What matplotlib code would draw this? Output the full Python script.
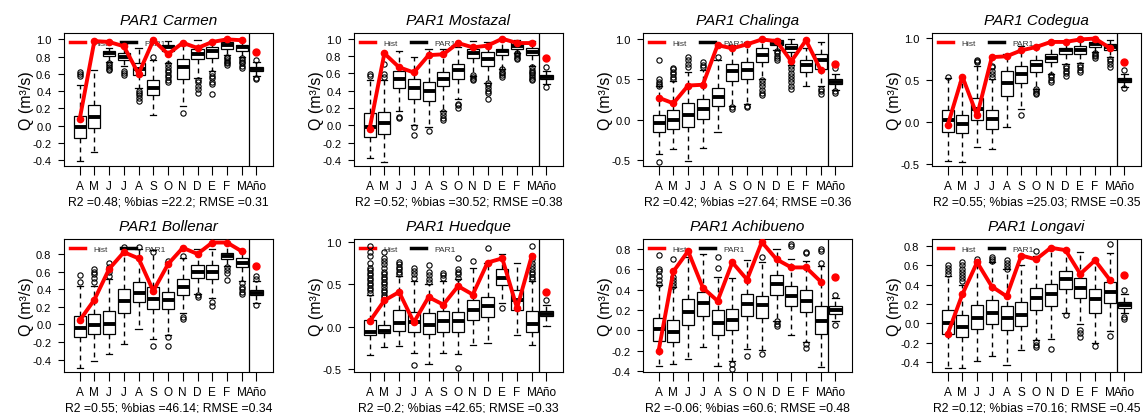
import matplotlib

matplotlib.use("Agg")
import matplotlib.pyplot as plt
from matplotlib.lines import Line2D
from matplotlib.ticker import FormatStrFormatter

plt.rcParams["font.family"] = ["Liberation Sans", "DejaVu Sans"]
plt.rcParams["axes.unicode_minus"] = False

STATIONS = ["Carmen", "Mostazal", "Chalinga", "Codegua",
            "Bollenar", "Huedque", "Achibueno", "Longavi"]
MONTHS = ["A", "M", "J", "J", "A", "S", "O", "N", "D", "E", "F", "M", "Año"]
SCORES = [
    "R2 =0.48; %bias =22.2; RMSE =0.31",
    "R2 =0.52; %bias =30.52; RMSE =0.38",
    "R2 =0.42; %bias =27.64; RMSE =0.36",
    "R2 =0.55; %bias =25.03; RMSE =0.35",
    "R2 =0.55; %bias =46.14; RMSE =0.34",
    "R2 =0.2; %bias =42.65; RMSE =0.33",
    "R2 =-0.06; %bias =60.6; RMSE =0.48",
    "R2 =0.12; %bias =70.16; RMSE =0.45",
]
TICKS_02 = [-0.4, -0.2, 0.0, 0.2, 0.4, 0.6, 0.8, 1.0]
TICKS_05 = [-0.5, 0.0, 0.5, 1.0]
TICKS_08 = [-0.4, -0.2, 0.0, 0.2, 0.4, 0.6, 0.8]
Y_TICKS = [TICKS_02, TICKS_02, TICKS_05, TICKS_05,
           TICKS_08, TICKS_05, TICKS_08, TICKS_08]
Y_LIMITS = [(-0.47, 1.074), (-0.47, 1.066), (-0.575, 1.07), (-0.52, 1.056),
            (-0.54, 0.97), (-0.54, 1.04), (-0.41, 0.90), (-0.50, 0.87)]

# PAR1 ensemble: box statistics per month (Apr..Mar) plus the annual value
Q1 = [
    [-0.14, -0.03, 0.805, 0.76, 0.59, 0.36, 0.86, 0.54, 0.77, 0.78, 0.89, 0.87, 0.63],
    [-0.13, -0.10, 0.43, 0.30, 0.28, 0.45, 0.54, 0.78, 0.69, 0.81, 0.88, 0.81, 0.54],
    [-0.15, -0.12, -0.09, 0.01, 0.17, 0.48, 0.50, 0.71, 0.92, 0.84, 0.59, 0.63, 0.44],
    [-0.12, -0.13, 0.03, -0.08, 0.31, 0.46, 0.59, 0.71, 0.81, 0.81, 0.89, 0.85, 0.48],
    [-0.14, -0.11, -0.11, 0.13, 0.26, 0.17, 0.17, 0.33, 0.53, 0.52, 0.74, 0.65, 0.33],
    [-0.10, -0.08, -0.05, -0.07, -0.09, -0.07, -0.07, 0.08, 0.11, 0.49, 0.20, -0.06, 0.12],
    [-0.10, -0.11, 0.05, 0.14, -0.045, 0.00, 0.14, 0.12, 0.35, 0.24, 0.18, -0.035, 0.16],
    [-0.11, -0.135, -0.06, -0.01, -0.07, -0.03, 0.14, 0.18, 0.36, 0.26, 0.11, 0.21, 0.16],
]
MED = [
    [-0.02, 0.10, 0.84, 0.80, 0.66, 0.44, 0.91, 0.68, 0.83, 0.87, 0.94, 0.91, 0.66],
    [-0.02, 0.03, 0.54, 0.43, 0.40, 0.54, 0.64, 0.84, 0.77, 0.86, 0.92, 0.85, 0.56],
    [-0.04, 0.00, 0.05, 0.13, 0.28, 0.60, 0.61, 0.80, 0.95, 0.88, 0.67, 0.74, 0.47],
    [0.02, -0.02, 0.15, 0.04, 0.46, 0.57, 0.68, 0.76, 0.85, 0.85, 0.92, 0.89, 0.50],
    [-0.035, -0.005, 0.01, 0.27, 0.36, 0.29, 0.275, 0.42, 0.60, 0.60, 0.78, 0.70, 0.36],
    [-0.06, -0.055, 0.04, 0.05, 0.02, 0.07, 0.06, 0.20, 0.24, 0.58, 0.31, 0.03, 0.15],
    [0.01, -0.02, 0.18, 0.27, 0.07, 0.10, 0.26, 0.25, 0.46, 0.34, 0.29, 0.09, 0.20],
    [0.00, -0.04, 0.06, 0.11, 0.06, 0.09, 0.26, 0.30, 0.46, 0.37, 0.25, 0.32, 0.19],
]
Q3 = [
    [0.11, 0.24, 0.87, 0.84, 0.72, 0.53, 0.93, 0.77, 0.89, 0.91, 0.97, 0.94, 0.68],
    [0.14, 0.15, 0.63, 0.54, 0.50, 0.62, 0.71, 0.88, 0.85, 0.88, 0.96, 0.89, 0.58],
    [0.06, 0.12, 0.20, 0.25, 0.39, 0.69, 0.71, 0.88, 0.98, 0.94, 0.73, 0.81, 0.50],
    [0.14, 0.09, 0.28, 0.14, 0.60, 0.67, 0.74, 0.81, 0.88, 0.90, 0.95, 0.92, 0.52],
    [0.10, 0.12, 0.15, 0.40, 0.48, 0.42, 0.37, 0.52, 0.67, 0.67, 0.81, 0.75, 0.39],
    [0.08, 0.02, 0.20, 0.17, 0.16, 0.18, 0.17, 0.32, 0.35, 0.68, 0.44, 0.19, 0.18],
    [0.12, 0.10, 0.31, 0.38, 0.20, 0.21, 0.36, 0.34, 0.55, 0.44, 0.40, 0.24, 0.24],
    [0.135, 0.09, 0.19, 0.24, 0.18, 0.22, 0.37, 0.41, 0.54, 0.47, 0.35, 0.43, 0.22],
]
WHISKER_LO = [
    [-0.41, -0.31, 0.74, 0.69, 0.43, 0.12, 0.73, 0.23, 0.55, 0.63, 0.82, 0.79, 0.57],
    [-0.38, -0.42, 0.16, 0.00, -0.02, 0.17, 0.30, 0.57, 0.49, 0.65, 0.84, 0.69, 0.48],
    [-0.43, -0.37, -0.51, -0.35, -0.16, 0.17, 0.19, 0.50, 0.86, 0.67, 0.41, 0.41, 0.36],
    [-0.46, -0.47, -0.29, -0.32, -0.06, 0.16, 0.39, 0.57, 0.69, 0.70, 0.83, 0.77, 0.42],
    [-0.49, -0.41, -0.33, -0.22, -0.055, -0.17, -0.12, 0.13, 0.34, 0.30, 0.66, 0.49, 0.24],
    [-0.34, -0.24, -0.23, -0.31, -0.44, -0.31, -0.33, -0.22, -0.19, 0.28, -0.10, -0.22, 0.01],
    [-0.35, -0.33, -0.28, -0.16, -0.35, -0.30, -0.18, -0.19, 0.09, -0.045, -0.11, -0.36, 0.09],
    [-0.46, -0.46, -0.39, -0.34, -0.43, -0.27, -0.17, -0.16, 0.11, -0.01, -0.20, -0.08, 0.11],
]
WHISKER_HI = [
    [0.47, 0.64, 0.90, 0.95, 0.90, 0.76, 0.98, 0.93, 0.99, 0.98, 1.00, 0.98, 0.74],
    [0.52, 0.52, 0.86, 0.79, 0.88, 0.88, 0.90, 0.97, 0.96, 0.98, 0.99, 0.97, 0.63],
    [0.41, 0.48, 0.59, 0.61, 0.73, 0.92, 0.96, 0.99, 1.00, 0.99, 0.88, 0.96, 0.56],
    [0.52, 0.48, 0.67, 0.51, 0.81, 0.90, 0.90, 0.95, 0.96, 0.96, 0.99, 0.97, 0.57],
    [0.44, 0.44, 0.52, 0.86, 0.86, 0.84, 0.71, 0.75, 0.86, 0.86, 0.93, 0.83, 0.49],
    [0.38, 0.30, 0.60, 0.54, 0.50, 0.54, 0.56, 0.69, 0.76, 0.86, 0.76, 0.54, 0.26],
    [0.45, 0.43, 0.72, 0.75, 0.53, 0.52, 0.69, 0.67, 0.80, 0.70, 0.68, 0.63, 0.32],
    [0.49, 0.40, 0.64, 0.63, 0.56, 0.60, 0.70, 0.78, 0.77, 0.74, 0.66, 0.73, 0.30],
]
FLIERS = [
    [[0.57, 0.60, 0.62], [], [0.64, 0.66, 0.68, 0.70, 0.72], [0.59, 0.61, 0.63],
     [0.29, 0.32, 0.35, 0.38, 0.40], [0.80], [0.50, 0.53, 0.56, 0.59, 0.62, 0.65, 0.68, 0.71],
     [0.14], [0.38, 0.42, 0.46, 0.50, 0.53], [0.37, 0.48, 0.51, 0.55, 0.58, 0.61],
     [0.70, 0.72, 0.74, 0.76, 0.78, 0.80], [0.67, 0.69, 0.72, 0.74, 0.76, 0.78],
     [0.54, 0.55, 0.76]],
    [[0.57, 0.59], [0.56, 0.59, 0.71], [0.08, 0.10], [-0.11, -0.02], [-0.07],
     [0.06, 0.09, 0.12, 0.15], [0.20, 0.23, 0.25], [0.52, 0.54, 0.56, 0.58],
     [0.30, 0.37, 0.40, 0.43, 0.46, 0.49], [0.56, 0.58, 0.60, 0.62, 0.65],
     [0.76, 0.78, 0.80, 0.82, 0.84], [0.52, 0.54, 0.56, 0.58, 0.60, 0.62, 0.64, 0.67],
     [0.44, 0.67]],
    [[-0.52, 0.42, 0.44, 0.46, 0.50, 0.73], [0.50, 0.53, 0.56, 0.59, 0.62, 0.64],
     [0.65, 0.69, 0.73, 0.77], [0.65, 0.68, 0.71], [0.77], [0.13, 0.15], [0.15, 0.17],
     [0.30, 0.33, 0.37, 0.41, 0.45, 0.49], [0.73, 0.76, 0.79, 0.82, 0.85],
     [0.38, 0.42, 0.46, 0.50, 0.54, 0.58, 0.62, 0.66], [], [0.32, 0.35, 0.38],
     [0.33, 0.35, 0.64]],
    [[0.53], [], [0.71, 0.73, 0.74], [0.53, 0.57, 0.61, 0.65, 0.67], [], [0.08],
     [0.33, 0.35, 0.37, 0.39], [0.47, 0.50, 0.53, 0.56], [0.55, 0.58, 0.61, 0.64, 0.67],
     [0.59, 0.62, 0.65, 0.68], [0.76, 0.78, 0.80, 0.82], [0.65, 0.69, 0.72, 0.75],
     [0.40, 0.62]],
    [[0.48, 0.56], [0.48, 0.53, 0.57, 0.60, 0.63], [0.55, 0.60, 0.65, 0.70], [0.88],
     [0.88], [-0.25, 0.82], [-0.25, -0.14, 0.72], [0.06, 0.09, 0.78], [0.31, 0.33],
     [0.21, 0.26], [0.50, 0.58, 0.62, 0.65], [0.34, 0.37, 0.40, 0.43, 0.47],
     [0.22, 0.52, 0.55]],
    [[0.40, 0.43, 0.46, 0.49, 0.52, 0.55, 0.58, 0.61, 0.64, 0.67, 0.70, 0.76, 0.84, 0.88, 0.96],
     [0.32, 0.35, 0.38, 0.41, 0.44, 0.47, 0.50, 0.53, 0.56, 0.59, 0.62, 0.65, 0.70, 0.74,
      0.78, 0.82, 0.88],
     [0.62, 0.65, 0.68, 0.71, 0.74, 0.77], [-0.46, 0.58, 0.62, 0.66, 0.70],
     [0.53, 0.57, 0.61, 0.65, 0.73], [0.58, 0.61, 0.64], [-0.49, 0.58, 0.62, 0.65, 0.68, 0.82],
     [0.78], [0.93], [0.22], [], [0.56, 0.59, 0.62, 0.65, 0.68, 0.72, 0.76, 0.80, 0.96],
     [0.31]],
    [[0.46, 0.50, 0.54, 0.58, 0.60, 0.74], [0.44, 0.47, 0.50, 0.53, 0.70], [], [],
     [0.61, 0.72], [-0.38, -0.33], [-0.25], [-0.23, 0.72], [0.04, 0.06, 0.09],
     [0.83, 0.85], [-0.17, -0.13, 0.76, 0.77], [0.66, 0.78, 0.80], [0.05, 0.35]],
    [[0.51, 0.54, 0.57, 0.60], [0.44, 0.47, 0.50, 0.53, 0.56, 0.60, 0.63], [0.66],
     [0.64, 0.66, 0.68], [0.56, 0.59, 0.62, 0.65], [], [-0.24, -0.22, -0.19, 0.75],
     [-0.26], [0.09], [-0.135, -0.10, -0.065], [-0.23], [-0.13, 0.82],
     [0.05, 0.07, 0.34]],
]

# Historical (observed) values, Apr..Mar, and the annual value
HIST = [
    [0.07, 0.98, 0.97, 0.92, 0.60, 0.99, 0.83, 0.96, 0.90, 0.97, 1.00, 0.99],
    [-0.04, 0.83, 0.67, 0.61, 0.81, 0.82, 0.95, 0.90, 0.92, 1.00, 0.95, 0.95],
    [0.27, 0.20, 0.42, 0.43, 0.92, 0.88, 0.93, 0.99, 0.97, 0.72, 0.98, 0.61],
    [-0.04, 0.54, 0.08, 0.77, 0.78, 0.85, 0.89, 0.95, 0.95, 0.98, 0.99, 0.88],
    [0.045, 0.28, 0.63, 0.82, 0.75, 0.38, 0.685, 0.87, 0.80, 0.93, 0.93, 0.83],
    [0.06, 0.31, 0.41, 0.05, 0.35, 0.26, 0.48, 0.38, 0.76, 0.81, 0.22, 0.84],
    [-0.20, 0.58, 0.78, 0.42, 0.29, 0.67, 0.50, 0.87, 0.70, 0.62, 0.62, 0.48],
    [-0.11, 0.30, 0.63, 0.38, 0.28, 0.70, 0.66, 0.78, 0.755, 0.51, 0.65, 0.45],
]
HIST_YEAR = [0.85, 0.78, 0.69, 0.71, 0.665, 0.41, 0.525, 0.495]

W, H = 1147, 414
COL_LEFT = [64, 354, 643, 932]
ROW_TOP = [34, 240]
AX_W, AX_H = 209, 133

fig = plt.figure(figsize=(W / 100, H / 100), dpi=100)

for i, name in enumerate(STATIONS):
    row, col = divmod(i, 4)
    ax = fig.add_axes([COL_LEFT[col] / W, 1 - (ROW_TOP[row] + AX_H) / H, AX_W / W, AX_H / H])

    stats = [
        dict(med=MED[i][k], q1=Q1[i][k], q3=Q3[i][k],
             whislo=WHISKER_LO[i][k], whishi=WHISKER_HI[i][k], fliers=FLIERS[i][k])
        for k in range(len(MONTHS))
    ]
    pos = list(range(1, len(MONTHS) + 1))
    ax.bxp(stats, positions=pos, widths=0.82, capwidths=0.42, patch_artist=True,
           manage_ticks=False, zorder=2,
           boxprops=dict(facecolor="white", edgecolor="black", linewidth=0.9),
           medianprops=dict(color="black", linewidth=2.8, solid_capstyle="butt"),
           whiskerprops=dict(color="black", linewidth=1.0, linestyle=(0, (3.5, 3))),
           capprops=dict(color="black", linewidth=0.9),
           flierprops=dict(marker="o", markersize=3.8, markerfacecolor="none",
                           markeredgecolor="black", markeredgewidth=0.8))

    ax.plot(pos[:-1], HIST[i], color="#ff0000", lw=2.8, marker="o", ms=4.5, zorder=4)
    ax.plot(pos[-1], HIST_YEAR[i], "o", color="#ff0000", ms=5, zorder=4)
    ax.axvline(12.5, color="black", lw=0.9, zorder=3)

    ax.set_xlim(-0.06, 14.12)
    ax.set_ylim(*Y_LIMITS[i])
    ax.set_yticks(Y_TICKS[i])
    ax.yaxis.set_major_formatter(FormatStrFormatter("%.1f"))
    ax.set_xticks(pos)
    ax.set_xticklabels(MONTHS)
    ax.tick_params(axis="y", direction="out", length=4, width=0.8, pad=5, labelsize=8)
    ax.tick_params(axis="x", direction="out", length=6.5, width=0.8, pad=3.5, labelsize=8.5)
    for sp in ax.spines.values():
        sp.set_linewidth(0.8)

    ax.set_title(f"PAR1 {name}", fontsize=11, style="italic", pad=6.5)
    ax.set_ylabel("Q (m³/s)", fontsize=11.5, labelpad=-1)
    ax.set_xlabel(SCORES[i], fontsize=8.8, labelpad=2.5)

    handles = [Line2D([], [], color="#ff0000", lw=2.5), Line2D([], [], color="black", lw=2.5)]
    leg = ax.legend(handles, ["Hist", "PAR1"], loc="upper left", ncol=2, frameon=False,
                    fontsize=6, handlelength=1.8, handletextpad=1.0, columnspacing=1.6,
                    borderaxespad=0.4, borderpad=0.3)
    for t in leg.get_texts():
        t.set_color("#333333")
    leg.set_zorder(1)

fig.savefig("out.png", dpi=100)
